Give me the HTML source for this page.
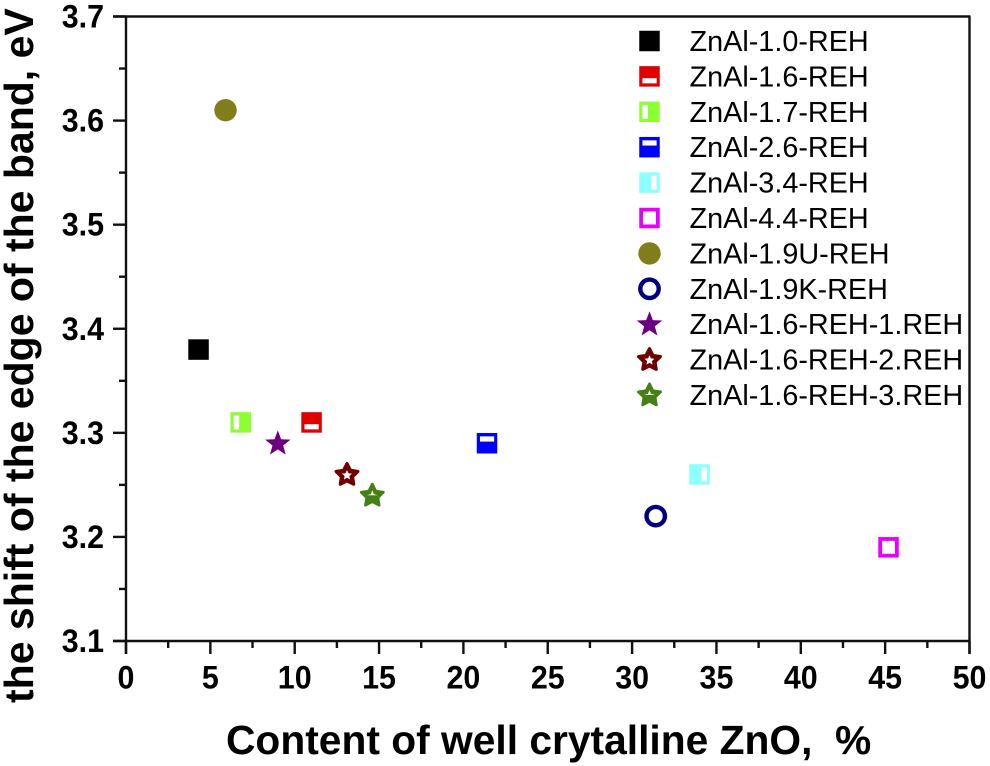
<!DOCTYPE html>
<html>
<head>
<meta charset="utf-8">
<title>Band edge shift vs ZnO content</title>
<style>
html,body{margin:0;padding:0;background:#fff;width:990px;height:766px;overflow:hidden}
svg{display:block;font-family:"Liberation Sans",Arial,sans-serif}
</style>
</head>
<body>
<svg id="chart" width="990" height="766" viewBox="0 0 990 766" xmlns="http://www.w3.org/2000/svg">
  <rect width="990" height="766" fill="#fff"/>
  <text x="226" y="754" font-size="40.75" font-weight="700" fill="#000" xml:space="preserve">Content of well crytalline ZnO,&#160; %</text>
  <text transform="translate(33,703) rotate(-90)" font-size="41" font-weight="700" fill="#000">the shift of the edge of the band, eV</text>
</svg>
<script>
const seriesNames = ['ZnAl-1.0-REH','ZnAl-1.6-REH','ZnAl-1.7-REH','ZnAl-2.6-REH','ZnAl-3.4-REH','ZnAl-4.4-REH','ZnAl-1.9U-REH','ZnAl-1.9K-REH','ZnAl-1.6-REH-1.REH','ZnAl-1.6-REH-2.REH','ZnAl-1.6-REH-3.REH'];
const contentValues = [4.3,11.0,6.8,21.4,34.0,45.2,5.9,31.4,9.0,13.1,14.6];
const shiftValues = [3.38,3.31,3.31,3.29,3.26,3.19,3.61,3.22,3.29,3.26,3.24];
const xTickLabels = [0,5,10,15,20,25,30,35,40,45,50];
const xMinorTicks = [2.5,7.5,12.5,17.5,22.5,27.5,32.5,37.5,42.5,47.5];
const yTickLabels = ['3.1','3.2','3.3','3.4','3.5','3.6','3.7'];
const yMinorTicks = [3.15,3.25,3.35,3.45,3.55,3.65];
const markerKinds = ['full','bottom','left','top','right','hollow','disc','ring','star','starDot','starHalf'];
const markerColors = ['#000000','#e00000','#8cff33','#0000ff','#8cffff','#e600ff','#807d1a','#000080','#6a0080','#6e0000','#458014'];

const svg = document.getElementById('chart');
const NS = 'http://www.w3.org/2000/svg';
const xScale = v => 126 + (v - 0) / 50 * 843.5;
const yScale = v => 641 - (v - 3.1) / 0.6 * 624.5;
const INK = '#111';

function mk(parent, tag, attrs) {
  const el = document.createElementNS(NS, tag);
  for (const k in attrs) el.setAttribute(k, attrs[k]);
  parent.appendChild(el);
  return el;
}
function starPoints(cx, cy, R, r) {
  const pts = [];
  for (let i = 0; i < 10; i++) {
    const rad = i % 2 ? r : R;
    const a = -Math.PI / 2 + i * Math.PI / 5;
    pts.push((cx + rad * Math.cos(a)).toFixed(2) + ',' + (cy + rad * Math.sin(a)).toFixed(2));
  }
  return pts.join(' ');
}
function drawMarker(g, kind, color, cx, cy) {
  const s = 20.5, h = s / 2;
  if (['full','bottom','left','top','right','hollow'].includes(kind)) {
    mk(g, 'rect', {x: cx - h, y: cy - h, width: s, height: s, fill: color});
    const holes = {
      bottom: [3.2, 12, 14.2, 5.2],
      top: [3.2, 3.4, 14.2, 5.2],
      left: [3.2, 3.3, 5.5, 14],
      right: [12, 3.3, 5.5, 14],
      hollow: [3.8, 3.8, 12.9, 12.9]
    };
    if (holes[kind]) {
      const b = holes[kind];
      mk(g, 'rect', {x: cx - h + b[0], y: cy - h + b[1], width: b[2], height: b[3], fill: '#fff'});
    }
  } else if (kind === 'disc') {
    mk(g, 'circle', {cx: cx, cy: cy, r: 11.2, fill: color});
  } else if (kind === 'ring') {
    mk(g, 'circle', {cx: cx, cy: cy, r: 9.2, fill: '#fff', stroke: color, 'stroke-width': 4.4});
  } else if (kind === 'star') {
    mk(g, 'polygon', {points: starPoints(cx, cy + 0.5, 13.4, 5.6), fill: color});
  } else if (kind === 'starDot') {
    mk(g, 'polygon', {points: starPoints(cx, cy + 0.5, 11.4, 5.8), fill: color, stroke: color, 'stroke-width': 3.2, 'stroke-linejoin': 'round'});
    mk(g, 'polygon', {points: starPoints(cx, cy + 0.8, 5.2, 2.5), fill: '#fff'});
  } else if (kind === 'starHalf') {
    mk(g, 'polygon', {points: starPoints(cx, cy + 0.5, 11.6, 5.8), fill: color, stroke: color, 'stroke-width': 2.8, 'stroke-linejoin': 'round'});
    mk(g, 'polygon', {points: [cx - 5.5, cy, cx + 5.5, cy, cx + 1.4, cy - 1.2, cx, cy - 5, cx - 1.4, cy - 1.2].join(','), fill: '#fff'});
  }
}

const axes = mk(svg, 'g', {stroke: INK, 'stroke-width': 2.4, fill: 'none'});



const leftAxis = mk(axes, 'line', {x1: xScale(0), x2: xScale(0), y1: yScale(3.7), y2: 654});


const rightAxis = mk(axes, 'line', {x1: xScale(50), x2: xScale(50), y1: yScale(3.7), y2: 654});


const topAxis = mk(axes, 'line', {x1: 113, x2: xScale(50) + 1, y1: yScale(3.7), y2: yScale(3.7)});


const bottomAxis = mk(axes, 'line', {x1: 113, x2: xScale(50) + 1, y1: yScale(3.1), y2: yScale(3.1)});



xTickLabels.forEach(v => {
  const x = xScale(v);
  const tick = mk(axes, 'line', {x1: x, x2: x, y1: yScale(3.1), y2: 654});
  
  
  const label = mk(svg, 'text', {transform: 'translate(' + x + ',688.5) scale(0.95,1)', 'text-anchor': 'middle', 'font-size': 32, 'font-weight': 700, fill: '#000'});
  label.textContent = v;
  
  
});
xMinorTicks.forEach(v => {
  const x = xScale(v);
  const tick = mk(axes, 'line', {x1: x, x2: x, y1: yScale(3.1), y2: 648});
  
  
});
yTickLabels.forEach(v => {
  const y = yScale(parseFloat(v));
  const tick = mk(axes, 'line', {x1: 113, x2: xScale(0), y1: y, y2: y});
  
  
  const label = mk(svg, 'text', {transform: 'translate(104,' + (y + 11) + ') scale(0.95,1)', 'text-anchor': 'end', 'font-size': 32, 'font-weight': 700, fill: '#000'});
  label.textContent = v;
  
  
});
yMinorTicks.forEach(v => {
  const y = yScale(v);
  const tick = mk(axes, 'line', {x1: 119, x2: xScale(0), y1: y, y2: y});
  
  
});

seriesNames.forEach((name, i) => {
  const point = mk(svg, 'g', {});
  
  
  drawMarker(point, markerKinds[i], markerColors[i], xScale(contentValues[i]), yScale(shiftValues[i]));

  const rowY = 41 + i * 35.4;
  const entry = mk(svg, 'g', {});
  
  
  drawMarker(entry, markerKinds[i], markerColors[i], 649.5, rowY);
  const label = mk(entry, 'text', {x: 689.5, y: rowY + 10, 'font-size': 28.8, fill: '#000'});
  label.textContent = name;
  
  
});
</script>
</body>
</html>
